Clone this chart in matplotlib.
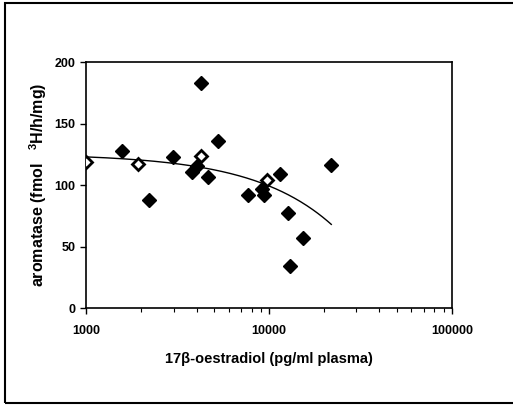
import numpy as np
import matplotlib
matplotlib.use("Agg")
from matplotlib import pyplot as plt
from matplotlib.patches import Rectangle
from matplotlib.ticker import LogLocator, NullFormatter, FixedLocator, FixedFormatter

plt.rcParams['font.family'] = ['Liberation Sans', 'DejaVu Sans']
plt.rcParams['mathtext.fontset'] = 'custom'
plt.rcParams['mathtext.bf'] = 'Liberation Sans:bold'
plt.rcParams['mathtext.rm'] = 'Liberation Sans:bold'

# filled diamonds
oestradiol = [1560, 2210, 2990, 4215, 3765, 4010, 4600, 5220, 7680, 9160,
              9400, 11500, 12620, 13000, 15360, 21860]
aromatase = [127.6, 87.8, 123, 183.5, 110.6, 115.4, 107, 135.8, 91.9, 97.3,
             91.9, 109, 77.2, 34.4, 56.9, 116.5]
# open diamonds
oestradiol_open = [1000, 1905, 4215, 9680]
aromatase_open = [119, 117, 124, 104]

x_all = np.array(oestradiol + oestradiol_open, dtype=float)
y_all = np.array(aromatase + aromatase_open, dtype=float)
coef = np.polyfit(x_all, y_all, 1)  # linear trendline
x_fit = np.geomspace(x_all.min(), x_all.max(), 200)
y_fit = np.polyval(coef, x_fit)

fig = plt.figure(figsize=(5.13, 4.05), dpi=100)
ax = fig.add_axes([0.1686, 0.2395, 0.7124, 0.6062])

ax.plot(x_fit, y_fit, color='black', lw=1.0, zorder=2)
ax.plot(oestradiol, aromatase, 'D', color='black', markersize=7.5, zorder=3)
ax.plot(oestradiol_open, aromatase_open, 'D', markerfacecolor='white',
        markeredgecolor='black', markeredgewidth=2.0, markersize=6.5, zorder=3)

ax.set_xscale('log')
ax.set_xlim(1000, 100000)
ax.set_ylim(0, 200)
ax.xaxis.set_major_locator(FixedLocator([1000, 10000, 100000]))
ax.xaxis.set_major_formatter(FixedFormatter(['1000', '10000', '100000']))
ax.xaxis.set_minor_locator(LogLocator(base=10, subs=np.arange(2, 10)))
ax.xaxis.set_minor_formatter(NullFormatter())
ax.set_yticks([0, 50, 100, 150, 200])

ax.tick_params(axis='both', which='major', direction='out', length=4, width=1,
               labelsize=9, pad=4)
ax.tick_params(axis='x', which='major', pad=8)
ax.tick_params(axis='x', which='minor', direction='out', length=3, width=0.8)
for lab in ax.get_xticklabels() + ax.get_yticklabels():
    lab.set_fontweight('bold')
for s in ax.spines.values():
    s.set_linewidth(1.2)

ax.set_xlabel('17\u03b2-oestradiol (pg/ml plasma)', fontsize=10.5,
              fontweight='bold', labelpad=11)
ax.set_ylabel('aromatase (fmol   $^{3}$H/h/mg)', fontsize=11.5,
              fontweight='bold', labelpad=4)

# outer frame
fig.patches.append(Rectangle((5 / 513, 1 - 403 / 405), 1.0, 400 / 405,
                             transform=fig.transFigure, fill=False,
                             edgecolor='black', lw=1.5))

fig.savefig('out.png', dpi=100)
